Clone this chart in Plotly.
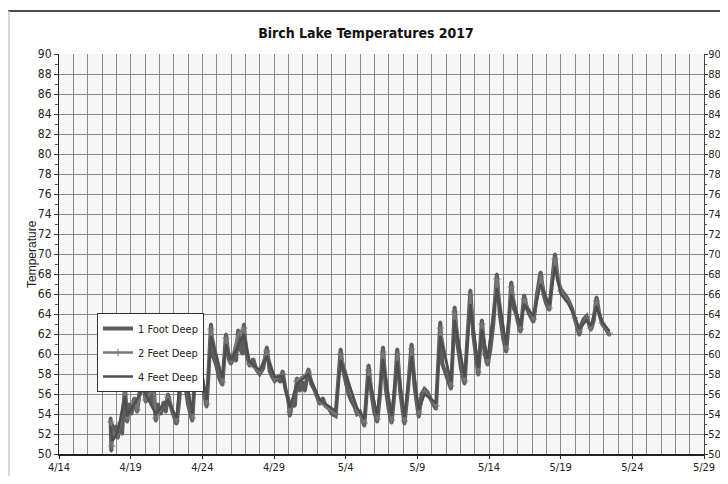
import pandas as pd
import plotly.graph_objects as go

# time in days since 4/14/2017, temperatures in °F
t_1ft = [3.60, 3.65, 3.70, 3.80, 3.95, 4.10, 4.25, 4.40, 4.60, 4.75, 4.90, 5.05, 5.25, 5.45, 5.65, 5.85,
         6.05, 6.25, 6.45, 6.60, 6.75, 6.90, 7.10, 7.30, 7.45, 7.60, 7.85, 8.05, 8.20, 8.40, 8.60, 8.80,
         9.00, 9.30, 9.50, 9.65, 9.80, 10.05, 10.30, 10.45, 10.60, 10.75, 10.95, 11.20, 11.40, 11.55,
         11.65, 11.85, 12.00, 12.20, 12.35, 12.50, 12.65, 12.80, 12.90, 13.05, 13.30, 13.55, 13.75,
         14.00, 14.25, 14.50, 14.70, 14.85, 15.05, 15.25, 15.45, 15.60, 15.80, 16.00, 16.10, 16.25,
         16.45, 16.60, 16.80, 17.00, 17.15, 17.40, 17.60, 17.80, 18.00, 18.20, 18.40, 18.60, 18.85,
         19.05, 19.30, 19.50, 19.65, 19.80, 20.00, 20.20, 20.40, 20.60, 20.80, 21.00, 21.30, 21.45,
         21.60, 21.80, 22.00, 22.20, 22.40, 22.60, 22.80, 23.00, 23.20, 23.40, 23.60, 23.80, 23.95,
         24.10, 24.35, 24.60, 24.80, 24.95, 25.10, 25.30, 25.50, 25.70, 25.90, 26.10, 26.30, 26.45,
         26.60, 26.75, 27.00, 27.20, 27.35, 27.50, 27.60, 27.80, 28.05, 28.30, 28.50, 28.70, 28.90,
         29.10, 29.25, 29.40, 29.50, 29.70, 29.90, 30.10, 30.30, 30.55, 30.75, 31.00, 31.20, 31.40,
         31.55, 31.75, 31.90, 32.05, 32.20, 32.45, 32.65, 32.80, 33.00, 33.10, 33.35, 33.60, 33.80,
         34.00, 34.20, 34.45, 34.60, 34.80, 35.00, 35.25, 35.50, 35.80, 36.00, 36.15, 36.30, 36.45,
         36.60, 36.80, 36.95, 37.10, 37.30, 37.50, 37.70, 37.90, 38.15, 38.40]
v_1ft = [53.6, 50.3, 53.0, 51.5, 52.8, 51.6, 53.2, 52.0, 56.9, 53.2, 55.0, 54.0, 55.6, 54.2, 56.5, 57.5,
         55.2, 56.2, 55.0, 57.0, 53.3, 55.0, 54.0, 55.2, 54.2, 56.0, 54.5, 53.5, 53.0, 55.5, 61.2, 57.0,
         55.0, 53.3, 57.5, 61.9, 58.5, 56.5, 54.7, 58.5, 63.0, 59.8, 59.0, 57.5, 56.9, 60.0,
         62.0, 59.5, 59.0, 60.0, 59.3, 62.4, 60.5, 60.0, 63.0, 60.2, 58.8, 59.5, 58.5,
         58.0, 58.6, 60.7, 58.3, 57.8, 57.3, 57.6, 57.2, 58.3, 56.5, 55.5, 53.8, 55.0,
         54.8, 57.6, 56.3, 57.2, 56.3, 58.5, 57.0, 56.5, 55.8, 55.0, 55.6, 54.8, 54.5,
         54.0, 53.8, 57.5, 60.5, 58.5, 57.0, 56.0, 55.3, 54.8, 54.0, 54.2, 52.8, 55.5,
         58.9, 56.0, 54.2, 53.2, 56.0, 60.7, 56.5, 54.5, 53.1, 56.0, 60.5, 56.3, 54.3,
         53.0, 56.5, 61.0, 56.8, 55.0, 53.7, 56.0, 56.5, 56.2, 55.5, 55.0, 54.5, 58.5,
         63.2, 59.0, 58.0, 57.3, 56.5, 61.0, 64.7, 61.0, 58.5, 57.0, 61.5, 66.4, 62.0,
         59.5, 57.9, 61.0, 63.4, 60.0, 58.9, 60.5, 63.0, 68.0, 64.0, 61.5, 60.2, 63.5,
         67.2, 64.5, 64.0, 63.0, 62.2, 65.9, 64.5, 64.0, 63.5, 63.2, 66.0, 68.2, 66.0,
         65.0, 64.4, 67.5, 70.0, 67.5, 66.5, 66.0, 65.5, 64.5, 63.5, 63.0, 61.9, 63.0,
         63.5, 63.8, 63.0, 62.4, 63.3, 65.7, 64.0, 63.0, 62.5, 61.9]

t_2ft = [3.62, 3.68, 3.80, 4.10, 4.25, 4.60, 4.75, 5.25, 5.45, 5.85, 6.05, 6.60, 6.75, 7.60, 8.20, 8.60,
         9.30, 9.65, 10.30, 10.60, 11.40, 11.65, 12.00, 12.50, 12.90, 13.30, 14.00, 14.50, 15.05, 15.60,
         16.10, 16.60, 17.40, 18.20, 19.30, 19.65, 20.80, 21.30, 21.60, 22.20, 22.60, 23.20, 23.60,
         24.10, 24.60, 25.10, 25.50, 26.30, 26.60, 27.35, 27.60, 28.30, 28.70, 29.25, 29.50, 29.90,
         30.55, 31.20, 31.55, 32.20, 32.45, 33.10, 33.60, 34.20, 34.60, 35.00, 35.50, 36.00, 36.30,
         36.80, 37.10, 37.50, 37.90, 38.40]
v_2ft = [53.2, 50.8, 52.0, 52.0, 53.0, 56.4, 53.5, 55.3, 54.4, 57.0, 55.4, 56.6, 53.6, 55.7, 53.3, 60.7,
         53.6, 61.5, 55.0, 62.5, 57.2, 61.6, 59.2, 62.0, 62.6, 59.0, 58.2, 60.3, 57.5, 58.0,
         54.2, 57.3, 58.2, 55.2, 54.0, 60.0, 54.3, 53.1, 58.4, 53.5, 60.2, 53.4, 60.0,
         53.3, 60.5, 54.0, 56.3, 54.8, 62.6, 56.8, 64.2, 57.3, 65.9, 58.2, 63.0, 59.2,
         67.5, 60.5, 66.7, 62.5, 65.5, 63.5, 67.7, 64.6, 69.5, 66.3, 65.3, 63.6, 62.2,
         63.6, 62.6, 65.3, 63.1, 62.1]

t_4ft = [3.62, 3.70, 4.10, 4.60, 4.75, 5.85, 6.75, 7.60, 8.20, 8.60, 9.30, 9.65, 10.30, 10.60, 11.40,
         11.65, 12.00, 12.90, 13.30, 14.00, 14.50, 15.05, 15.60, 16.10, 16.60, 17.40, 18.20, 19.30,
         19.65, 20.80, 21.30, 21.60, 22.20, 22.60, 23.20, 23.60, 24.10, 24.60, 25.10, 25.50, 26.30,
         26.60, 27.35, 27.60, 28.30, 28.70, 29.25, 29.50, 29.90, 30.55, 31.20, 31.55, 32.20, 32.45,
         33.10, 33.60, 34.20, 34.60, 35.00, 35.50, 36.00, 36.30, 36.80, 37.10, 37.50, 37.90, 38.40]
v_4ft = [52.8, 51.3, 52.2, 55.8, 53.8, 56.5, 54.0, 55.4, 53.6, 60.0, 54.0, 60.8, 55.4, 61.8, 57.6,
         61.0, 59.4, 62.0, 59.2, 58.4, 59.8, 57.7, 57.8, 54.6, 57.0, 58.0, 55.4, 54.3,
         59.4, 54.6, 53.5, 57.8, 53.9, 59.5, 53.8, 59.3, 53.7, 59.8, 54.4, 56.0, 55.1,
         61.8, 57.2, 63.4, 57.7, 65.0, 58.6, 62.5, 59.5, 66.6, 60.9, 66.0, 62.8, 65.0,
         63.8, 67.0, 64.9, 68.8, 66.0, 65.1, 63.7, 62.5, 63.4, 62.8, 64.8, 63.2, 62.3]

y_ticks = list(range(50, 91, 2))
x_tick_dates = ["2017-04-14", "2017-04-19", "2017-04-24", "2017-04-29", "2017-05-04",
                "2017-05-09", "2017-05-14", "2017-05-19", "2017-05-24", "2017-05-29"]
x_tick_text = ["4/14", "4/19", "4/24", "4/29", "5/4", "5/9", "5/14", "5/19", "5/24", "5/29"]

base = pd.Timestamp("2017-04-14")
def to_dates(days):
    return [base + pd.Timedelta(days=d) for d in days]

NARROW = "DejaVu Sans Condensed, Liberation Sans Narrow, Liberation Sans, sans-serif"
TICKF = dict(size=12, family=NARROW, color="#222")

# the page body adds an 8px margin; keep the figure small enough to avoid scrollbars
W, H = 712, 468
L, T, R, B = 51, 46, 16, 22
PW, PH = W - L - R, H - T - B
OX, OY = 8, 8  # figure offset inside the window

fig = go.Figure()
fig.add_trace(go.Scatter(x=to_dates(t_1ft), y=v_1ft, name="1 Foot Deep", mode="lines+markers",
                         legendgroup="a", line=dict(color="#5c5c5c", width=4),
                         marker=dict(size=3, color="#5c5c5c")))
fig.add_trace(go.Scatter(x=to_dates(t_2ft), y=v_2ft, name="2 Feet Deep", mode="lines+markers",
                         legendgroup="b", line=dict(color="#777777", width=2.5),
                         marker=dict(symbol="cross-thin", size=5, line=dict(color="#777777", width=1))))
fig.add_trace(go.Scatter(x=to_dates(t_4ft), y=v_4ft, name="4 Feet Deep", mode="lines",
                         legendgroup="c", yaxis="y2", line=dict(color="#4e4e4e", width=2.5)))

grid = "#8a8a8a"
fig.update_layout(
    width=W, height=H,
    margin=dict(l=L, r=R, t=T, b=B, autoexpand=False),
    paper_bgcolor="white", plot_bgcolor="#f6f6f6",
    font=dict(family=NARROW, color="#222"),
    title=dict(text="<b>Birch Lake Temperatures 2017</b>", x=(366 - OX) / W, xanchor="center",
               y=1 - (33 - OY) / H, yanchor="middle", font=dict(size=14, family=NARROW, color="#111")),
    showlegend=True,
    legend=dict(x=(97 - 59) / PW, y=(454 - 313) / PH, xanchor="left", yanchor="top", bgcolor="white",
                bordercolor="#333", borderwidth=1, font=dict(size=11, family=NARROW, color="#222"),
                tracegroupgap=5, itemwidth=30),
    xaxis=dict(type="date", range=["2017-04-14", "2017-05-29"], tickvals=x_tick_dates,
               ticktext=x_tick_text, showgrid=True, gridcolor=grid, gridwidth=1,
               minor=dict(dtick=86400000, showgrid=True, gridcolor=grid, gridwidth=1),
               showline=True, linecolor="#222", linewidth=1.5, ticks="outside", ticklen=3,
               tickcolor="#222", tickfont=dict(size=11, family=NARROW, color="#222"),
               ticklabelstandoff=-1, zeroline=False, automargin=False),
    yaxis=dict(range=[50, 90], tickvals=y_ticks, showgrid=True, gridcolor=grid, gridwidth=1,
               showline=True, linecolor="#222", linewidth=1, ticks="outside", ticklen=4,
               tickcolor="#333", minor=dict(dtick=1, ticks="outside", ticklen=3, tickcolor="#555",
                                             showgrid=False),
               tickfont=TICKF, zeroline=False, automargin=False),
    yaxis2=dict(range=[50, 90], tickvals=y_ticks, overlaying="y", side="right", showgrid=False,
                showline=True, linecolor="#444", linewidth=1, ticks="outside", ticklen=3,
                tickcolor="#333", minor=dict(dtick=1, ticks="outside", ticklen=2, tickcolor="#555"),
                tickfont=dict(size=11, family=NARROW, color="#222"), ticklabelstandoff=-2,
                zeroline=False, automargin=False),
)

fig.add_annotation(text="Temperature", xref="paper", yref="paper", x=(23 - 59) / PW, y=0.5,
                   textangle=-90, showarrow=False,
                   font=dict(size=12, family="Liberation Sans, Arial, sans-serif", color="#222"))

# outer frame of the original chart
fig.add_shape(type="line", xref="paper", yref="paper", x0=-L / PW, x1=(W - L) / PW,
              y0=(454 - 11) / PH, y1=(454 - 11) / PH, line=dict(color="#111", width=1.5))
fig.add_shape(type="line", xref="paper", yref="paper", x0=(1 - L) / PW, x1=(1 - L) / PW,
              y0=(454 - 11) / PH, y1=-B / PH, line=dict(color="#c8c8c8", width=1.5))

fig.write_html("out.html")
